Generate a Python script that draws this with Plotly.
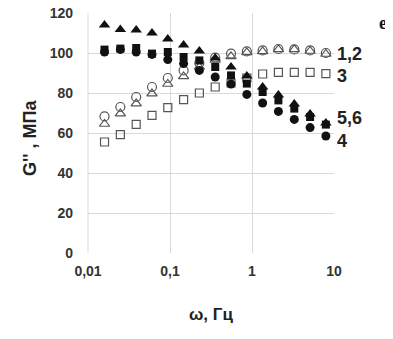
import plotly.graph_objects as go

freq = [0.0159, 0.0248, 0.0387, 0.0603, 0.094, 0.1465, 0.228, 0.356, 0.555,
        0.865, 1.348, 2.10, 3.28, 5.11, 7.96]

s1_open_circle = [68.3, 73, 78, 83, 87.5, 91.3, 95, 97.7, 99.7, 100.8, 101.3, 102, 101.8, 101.3, 100]
s2_open_triangle = [64.5, 69.7, 74.7, 79.7, 84.5, 88.3, 93, 96.5, 98.3, 100.3, 100.8, 101.8, 101.8, 101, 99.5]
s3_open_square = [55.5, 59.2, 64.3, 68.8, 72.7, 76.7, 80, 83, 85, 87.5, 89.5, 90.3, 90.3, 90.3, 89.7]
s4_filled_circle = [100.5, 101.8, 100.5, 99.3, 96.7, 94.7, 91.3, 88, 84.5, 79.3, 75, 70.8, 66.8, 62.7, 58.5]
s5_filled_triangle = [114, 111.7, 111.5, 110, 107, 104, 101, 97.5, 93, 88.5, 83, 79, 74.5, 69.5, 65]
s6_filled_square = [101.7, 102.2, 102.5, 99.7, 100.5, 98, 96.3, 93, 88.8, 84.7, 80.5, 76.3, 72.2, 68, 64.2]

x_tickvals = [0.01, 0.1, 1, 10]
x_ticktext = ["0,01", "0,1", "1", "10"]
y_tickvals = [0, 20, 40, 60, 80, 100, 120]

series_labels = [("1,2", 99.3), ("3", 88.3), ("5,6", 67.3), ("4", 56.2)]

OPEN = "#555555"
FILL = "#111111"

# page body has an 8px default margin; work in figure coordinates
OFF = 8
W, H = 393 - OFF, 339 - OFF
L, T = 88 - OFF, 13 - OFF
R = W - (334 - OFF)
B = H - (253 - OFF)
PW, PH = W - L - R, H - T - B

def px_x(px):
    return (px - OFF - L) / PW

def px_y(py):
    return 1 - (py - OFF - T) / PH

fig = go.Figure()

def add(y, symbol, color, size, lw=1.2):
    fig.add_trace(go.Scatter(
        x=freq, y=y, mode="markers",
        marker=dict(symbol=symbol, size=size, color=color,
                    line=dict(color=color, width=lw)),
        showlegend=False, hoverinfo="skip", cliponaxis=False))

add(s3_open_square, "square-open", OPEN, 8)
add(s2_open_triangle, "triangle-up-open", OPEN, 9)
add(s1_open_circle, "circle-open", OPEN, 9)
add(s4_filled_circle, "circle", FILL, 9, 0)
add(s6_filled_square, "square", FILL, 8, 0)
add(s5_filled_triangle, "triangle-up", FILL, 10, 0)

lab_font = dict(family="Liberation Sans, Arial, sans-serif", size=18, color="#222222")
for txt, yv in series_labels:
    fig.add_annotation(x=1.0, xref="paper", xanchor="left", xshift=1,
                       y=yv, yref="y", yanchor="middle",
                       text="<b>%s</b>" % txt, showarrow=False, font=lab_font)

fig.add_annotation(x=px_x(383), xref="paper", xanchor="center",
                   y=px_y(23), yref="paper", yanchor="middle",
                   text="<b>e</b>", showarrow=False,
                   font=dict(family="Liberation Serif, Times New Roman, serif", size=18, color="#111111"))

fig.add_annotation(x=px_x(211), xref="paper", xanchor="center",
                   y=px_y(314), yref="paper", yanchor="middle",
                   text="<b>ω, Гц</b>", showarrow=False,
                   font=dict(family="Liberation Sans, Arial, sans-serif", size=17, color="#222222"))
fig.add_annotation(x=px_x(30), xref="paper", xanchor="center",
                   y=px_y(138), yref="paper", yanchor="middle",
                   text="<b>G'' , МПа</b>", showarrow=False, textangle=-90,
                   font=dict(family="Liberation Sans, Arial, sans-serif", size=18, color="#222222"))

tick_font = dict(family="Liberation Sans, Arial, sans-serif", size=14, color="#333333")

fig.update_xaxes(type="log", range=[-2, 1], tickvals=x_tickvals,
                 ticktext=["<b>%s</b>" % t for t in x_ticktext],
                 tickfont=tick_font, showgrid=True, gridcolor="#d9d9d9", gridwidth=1,
                 zeroline=False, showline=False, ticks="", ticklabelstandoff=8,
                 ticklabeloverflow="allow", automargin=False)
fig.update_yaxes(range=[0, 120], tickvals=y_tickvals,
                 ticktext=["<b>%d</b>" % v for v in y_tickvals],
                 tickfont=tick_font,
                 showgrid=True, gridcolor="#d9d9d9", gridwidth=1,
                 zeroline=False, showline=False, ticks="", ticklabelstandoff=14,
                 ticklabeloverflow="allow", automargin=False)

fig.add_shape(type="line", xref="paper", yref="paper", x0=0, x1=0, y0=0, y1=1,
              line=dict(color="#d9d9d9", width=1), layer="below")

fig.update_layout(width=W, height=H, margin=dict(l=L, r=R, t=T, b=B, autoexpand=False),
                  paper_bgcolor="white", plot_bgcolor="white")

fig.write_html("out.html")
